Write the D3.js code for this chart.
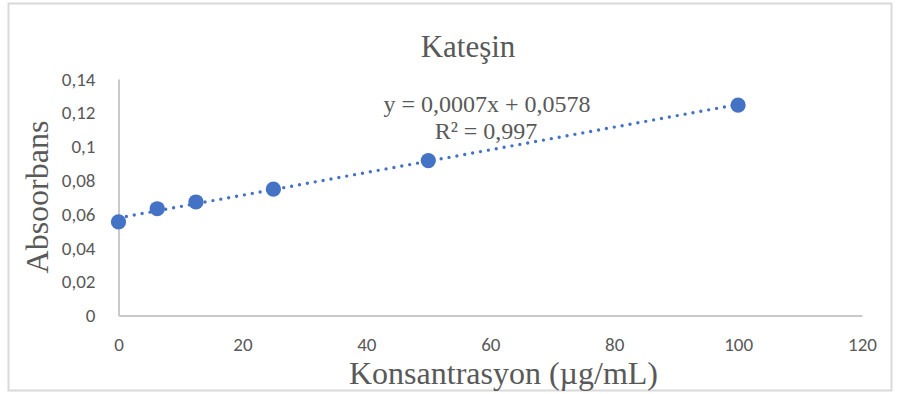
<!DOCTYPE html>
<html>
<head>
<meta charset="utf-8">
<script src="https://cdn.jsdelivr.net/npm/d3@7"></script>
<style>
  html, body { margin: 0; padding: 0; background: #fff; }
  svg { display: block; }
</style>
</head>
<body>
<svg id="chart" width="897" height="394"></svg>
<script>
// Calibration data: catechin concentration vs absorbance
const concentrations = [0, 6.25, 12.5, 25, 50, 100];
const absorbances = [0.0554, 0.0632, 0.0672, 0.0748, 0.0917, 0.1245];
const xTicks = [0, 20, 40, 60, 80, 100, 120];
const yTicks = [0, 0.02, 0.04, 0.06, 0.08, 0.1, 0.12, 0.14];
const chartTitle = "Kateşin";
const xTitle = "Konsantrasyon (µg/mL)";
const yTitle = "Absoorbans";

const svg = d3.select("#chart");
const serif = "'Liberation Serif', 'Times New Roman', serif";
const sans = "Carlito, Lato, 'Liberation Sans', sans-serif";
const textColor = "#595959";
const axisColor = "#c9c9c9";
const blue = "#4472C4";

// outer frame
svg.append("rect")
  .attr("x", 8.5).attr("y", 3.5)
  .attr("width", 883).attr("height", 387)
  .attr("fill", "#fff")
  .attr("stroke", "#d9d9d9").attr("stroke-width", 2);

const x = d3.scaleLinear().domain([0, 120]).range([118.5, 862]);
const y = d3.scaleLinear().domain([0, 0.14]).range([315.5, 79]);

const comma = v => String(+v.toFixed(4)).replace(".", ",");

// x axis
const gx = svg.append("g").attr("transform", `translate(0,${y(0)})`)
  .call(d3.axisBottom(x).tickValues(xTicks).tickSize(0).tickPadding(22).tickFormat(d => d));
gx.select(".domain").attr("stroke", axisColor).attr("stroke-width", 2);
gx.selectAll("text").attr("font-family", sans).attr("font-size", 19).attr("fill", textColor);

// y axis
const gy = svg.append("g").attr("transform", `translate(${x(0)},0)`)
  .call(d3.axisLeft(y).tickValues(yTicks).tickSize(0).tickPadding(23).tickFormat(comma));
gy.select(".domain").attr("stroke", axisColor).attr("stroke-width", 2);
gy.selectAll("text").attr("font-family", sans).attr("font-size", 19).attr("fill", textColor);

// least-squares linear fit
const n = concentrations.length;
const mx = d3.mean(concentrations), my = d3.mean(absorbances);
let sxy = 0, sxx = 0, syy = 0;
for (let i = 0; i < n; i++) {
  const dx = concentrations[i] - mx, dy = absorbances[i] - my;
  sxy += dx * dy; sxx += dx * dx; syy += dy * dy;
}
const slope = sxy / sxx;
const intercept = my - slope * mx;
const r2 = (sxy * sxy) / (sxx * syy);

const xMin = d3.min(concentrations), xMax = d3.max(concentrations);
svg.append("line")
  .attr("x1", x(xMin)).attr("y1", y(slope * xMin + intercept))
  .attr("x2", x(xMax)).attr("y2", y(slope * xMax + intercept))
  .attr("stroke", blue).attr("stroke-width", 3.4)
  .attr("stroke-linecap", "round")
  .attr("stroke-dasharray", "0 8");

// data points
svg.append("g").selectAll("circle")
  .data(concentrations.map((c, i) => [c, absorbances[i]]))
  .join("circle")
  .attr("cx", d => x(d[0])).attr("cy", d => y(d[1]))
  .attr("r", 7.6).attr("fill", blue);

// regression equation
const eq = svg.append("g").attr("font-family", serif).attr("font-size", 24)
  .attr("fill", textColor).attr("text-anchor", "middle");
eq.append("text").attr("x", 487).attr("y", 112)
  .text(`y = ${slope.toFixed(4).replace(".", ",")}x + ${intercept.toFixed(4).replace(".", ",")}`);
eq.append("text").attr("x", 486).attr("y", 139)
  .text(`R² = ${r2.toFixed(3).replace(".", ",")}`);

// titles
svg.append("text").attr("x", 468).attr("y", 57)
  .attr("text-anchor", "middle").attr("font-family", serif).attr("font-size", 31)
  .attr("fill", textColor).text(chartTitle);

svg.append("text").attr("x", 503.5).attr("y", 384)
  .attr("text-anchor", "middle").attr("font-family", serif).attr("font-size", 32)
  .attr("fill", textColor).text(xTitle);

svg.append("text")
  .attr("transform", "translate(48,197) rotate(-90)")
  .attr("text-anchor", "middle").attr("font-family", serif).attr("font-size", 32)
  .attr("fill", textColor).text(yTitle);
</script>
</body>
</html>
